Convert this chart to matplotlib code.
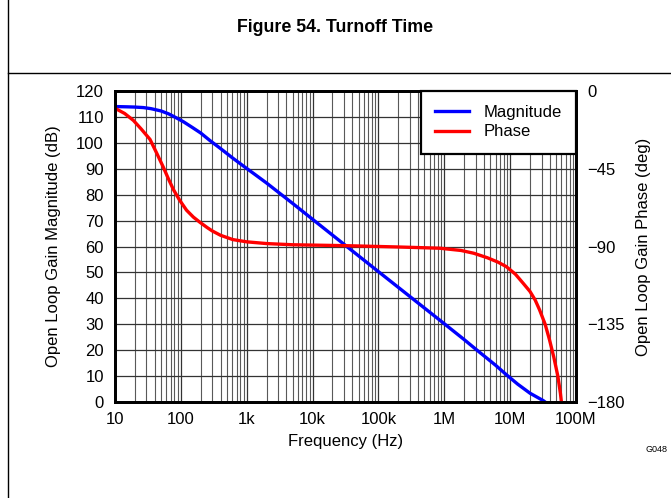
import numpy as np
import matplotlib
matplotlib.use("Agg")
import matplotlib.pyplot as plt
from matplotlib.lines import Line2D
from matplotlib.ticker import FixedLocator, FixedFormatter, NullFormatter

plt.rcParams["font.family"] = ["Liberation Sans", "DejaVu Sans"]
fontsize = 12

# Magnitude (dB)
mag_freq = [10, 15, 20, 27, 35, 50, 65, 86, 110, 150, 200, 276, 400, 600, 885,
            1.3e3, 2e3, 5e3, 1e4, 1e5, 1e6, 2e6, 3e6, 6e6, 8.7e6, 1.3e7, 2e7,
            3.2e7, 3.6e7]
mag_db = [114, 113.9, 113.8, 113.6, 113.2, 112.3, 111.2, 109.6, 108.1, 105.9,
          103.8, 100.9, 97.8, 94.3, 91.1, 88, 84.5, 76.6, 70.5, 50.3, 30.2,
          24.1, 20.4, 14.2, 10.6, 6.9, 3.4, 0.5, -0.5]

# Phase (deg)
ph_freq = [10, 14, 19, 25, 34, 43, 54, 65, 77, 95, 122, 155, 195, 250, 300,
           400, 616, 1e3, 2e3, 5e3, 3e4, 2.1e5, 8.6e5, 1.8e6, 2.8e6, 4.5e6,
           6.5e6, 8.7e6, 1.2e7, 1.57e7, 2e7, 2.4e7, 2.8e7, 3.4e7, 3.96e7,
           4.6e7, 5.3e7, 5.8e7, 6e7, 6.2e7]
ph_deg = [-10, -13, -17, -22, -28, -36, -44, -51, -57, -63, -69, -73, -76,
          -79, -81, -83.5, -86, -87.3, -88.3, -89, -89.5, -90.3, -91, -92.3,
          -93.9, -96.5, -99, -101.6, -106, -111.2, -116, -121, -126.7, -135,
          -144, -154, -165, -175, -180, -185]

x_ticks = [10, 100, 1e3, 1e4, 1e5, 1e6, 1e7, 1e8]
x_tick_labels = ["10", "100", "1k", "10k", "100k", "1M", "10M", "100M"]
mag_ticks = list(range(0, 121, 10))
ph_ticks = [-180, -135, -90, -45, 0]

fig = plt.figure(figsize=(6.71, 4.98), dpi=100)
ax = fig.add_axes([115 / 671, 1 - 402 / 498, 461 / 671, 311 / 498])
ax2 = ax.twinx()

ax.set_xscale("log")
ax.set_xlim(10, 1e8)
ax.set_ylim(0, 120)
ax2.set_ylim(-180, 0)

minor = [m * 10 ** e for e in range(1, 8) for m in range(2, 10)]
ax.xaxis.set_major_locator(FixedLocator(x_ticks))
ax.xaxis.set_major_formatter(FixedFormatter(x_tick_labels))
ax.xaxis.set_minor_locator(FixedLocator(minor))
ax.xaxis.set_minor_formatter(NullFormatter())
ax.set_yticks(mag_ticks)
ax2.set_yticks(ph_ticks)
ax.tick_params(axis="y", length=0, pad=8, labelsize=fontsize)
ax.tick_params(axis="x", which="both", length=0, pad=7, labelsize=fontsize)
ax2.tick_params(length=0, pad=8, labelsize=fontsize)

ax.grid(True, which="major", color="0.2", linewidth=0.9)
ax.grid(True, which="minor", axis="x", color="0.35", linewidth=0.8)
ax.set_axisbelow(True)

l1, = ax.plot(mag_freq, mag_db, color="#0000ff", linewidth=2.4, label="Magnitude")
l2, = ax2.plot(ph_freq, ph_deg, color="#ff0000", linewidth=2.4, label="Phase")

ax.set_xlabel("Frequency (Hz)", fontsize=fontsize, labelpad=5)
ax.set_ylabel("Open Loop Gain Magnitude (dB)", fontsize=fontsize, labelpad=11)
ax2.set_ylabel("Open Loop Gain Phase (deg)", fontsize=fontsize, labelpad=8)

for a in (ax, ax2):
    for s in a.spines.values():
        s.set_linewidth(2)
        s.set_color("black")

leg = ax2.legend(handles=[l1, l2], loc="upper right", fontsize=fontsize,
                 fancybox=False, framealpha=1, edgecolor="black",
                 borderaxespad=0, handlelength=2.0, handletextpad=0.9,
                 borderpad=0.85, labelspacing=0.25)
leg.get_frame().set_linewidth(1.6)

fig.text(0.5, 1 - 27 / 498, "Figure 54. Turnoff Time", ha="center", va="center",
         fontsize=12.8, fontweight="bold")
fig.text(656 / 671, 1 - 449 / 498, "G048", ha="center", va="center", fontsize=6.5)

# frame lines of the figure cell
fig.add_artist(Line2D([8 / 671, 8 / 671], [0, 1], color="black", linewidth=1))
fig.add_artist(Line2D([8 / 671, 1], [1 - 73 / 498, 1 - 73 / 498], color="black", linewidth=1))

fig.savefig("out.png", dpi=100)
